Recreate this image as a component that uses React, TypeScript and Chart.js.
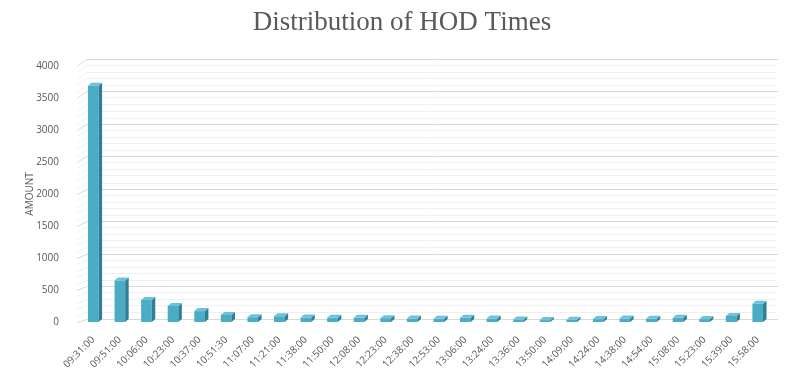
import React, { useEffect, useRef } from 'react';
import { Chart, registerables } from 'chart.js';

Chart.register(...registerables);

const categories = [
  '09:31:00', '09:51:00', '10:06:00', '10:23:00', '10:37:00', '10:51:30', '11:07:00',
  '11:21:00', '11:38:00', '11:50:00', '12:08:00', '12:23:00', '12:38:00', '12:53:00',
  '13:06:00', '13:24:00', '13:36:00', '13:50:00', '14:09:00', '14:24:00', '14:38:00',
  '14:54:00', '15:08:00', '15:23:00', '15:39:00', '15:58:00',
];

const amounts = [
  3690, 650, 345, 250, 170, 110, 75,
  90, 70, 65, 65, 60, 55, 50,
  65, 55, 40, 30, 35, 45, 55,
  50, 65, 45, 95, 285,
];

const yMin = 0;
const yMax = 4000;
const yMinorStep = 100;
const yMajorStep = 500;

const TITLE = 'Distribution of HOD Times';
const Y_TITLE = 'AMOUNT';

const FRONT = '#4BACC6';
const SIDE = '#2E7F96';
const TOP = '#6DC2D8';
const TEXT = '#595959';

const backWallPlugin = {
  id: 'backWall',
  beforeDatasetsDraw(chart: any) {
    const { ctx, chartArea } = chart;
    const yScale = chart.scales.y;
    ctx.save();
    ctx.lineWidth = 1;
    yScale.ticks.forEach((t: any) => {
      const v = t.value;
      const fy = Math.round(yScale.getPixelForValue(v)) + 0.5;
      const off = 4 + 3.7 * (v - yMin) / (yMax - yMin);
      const by = Math.round(fy - off) + 0.5;
      const major = v % yMajorStep === 0;
      ctx.strokeStyle = major ? '#D9D9D9' : '#F0F0F0';
      ctx.beginPath();
      ctx.moveTo(chartArea.left - 3, fy);
      ctx.lineTo(chartArea.left + 7, by);
      ctx.lineTo(chartArea.right + (major ? 7 : 5), by);
      ctx.stroke();
    });
    ctx.restore();
  },
};

const bar3dPlugin = {
  id: 'bar3d',
  afterDatasetsDraw(chart: any) {
    const { ctx } = chart;
    const meta = chart.getDatasetMeta(0);
    const dx = 3.5;
    const dy = 3;
    ctx.save();
    meta.data.forEach((bar: any) => {
      const { x, y, base, width } = bar.getProps(['x', 'y', 'base', 'width'], true);
      const l = x - width / 2;
      const r = x + width / 2;
      ctx.fillStyle = SIDE;
      ctx.beginPath();
      ctx.moveTo(r, y);
      ctx.lineTo(r + dx, y - dy);
      ctx.lineTo(r + dx, base - dy);
      ctx.lineTo(r, base);
      ctx.closePath();
      ctx.fill();
      ctx.fillStyle = TOP;
      ctx.beginPath();
      ctx.moveTo(l, y);
      ctx.lineTo(l + dx, y - dy);
      ctx.lineTo(r + dx, y - dy);
      ctx.lineTo(r, y);
      ctx.closePath();
      ctx.fill();
    });
    ctx.restore();
  },
};

export default function App() {
  const canvasRef = useRef<HTMLCanvasElement | null>(null);

  useEffect(() => {
    if (!canvasRef.current) return;
    const chart = new Chart(canvasRef.current, {
      type: 'bar',
      data: {
        labels: categories,
        datasets: [
          {
            label: Y_TITLE,
            data: amounts,
            backgroundColor: FRONT,
            borderWidth: 0,
            categoryPercentage: 1,
            barPercentage: 0.4,
          },
        ],
      },
      options: {
        animation: false,
        responsive: true,
        maintainAspectRatio: false,
        layout: { padding: 0 },
        plugins: {
          legend: { display: false },
          tooltip: { enabled: false },
          title: {
            display: true,
            text: TITLE,
            color: TEXT,
            font: { family: "'Liberation Serif', serif", size: 27, weight: 'normal' },
            padding: { top: 7, bottom: 26.5 },
          },
        },
        scales: {
          x: {
            grid: { display: false },
            border: { display: false },
            ticks: {
              color: TEXT,
              font: { family: "'Open Sans', sans-serif", size: 10 },
              minRotation: 45,
              maxRotation: 45,
              autoSkip: false,
              padding: 4,
            },
            afterFit: (s: any) => {
              s.height = 58;
            },
          },
          y: {
            min: yMin,
            max: yMax,
            grid: { display: false },
            border: { display: false },
            ticks: {
              stepSize: yMinorStep,
              autoSkip: false,
              color: TEXT,
              font: { family: "'Open Sans', sans-serif", size: 10 },
              padding: 13,
              callback: (v: any) => (Number(v) % yMajorStep === 0 ? String(v) : ''),
            },
            title: {
              display: true,
              text: Y_TITLE,
              color: TEXT,
              font: { family: "'Open Sans', sans-serif", size: 10 },
              padding: { top: 24, bottom: 0 },
            },
            afterFit: (s: any) => {
              s.width = 80;
            },
          },
          spacer: {
            type: 'linear',
            position: 'right',
            display: true,
            grid: { display: false },
            border: { display: false },
            ticks: { display: false },
            afterFit: (s: any) => {
              s.width = 33;
            },
          },
        },
      },
      plugins: [backWallPlugin, bar3dPlugin],
    });
    return () => chart.destroy();
  }, []);

  return (
    <div style={{ position: 'absolute', left: 0, top: 0, width: 804, height: 380, background: '#fff' }}>
      <canvas ref={canvasRef} />
    </div>
  );
}
